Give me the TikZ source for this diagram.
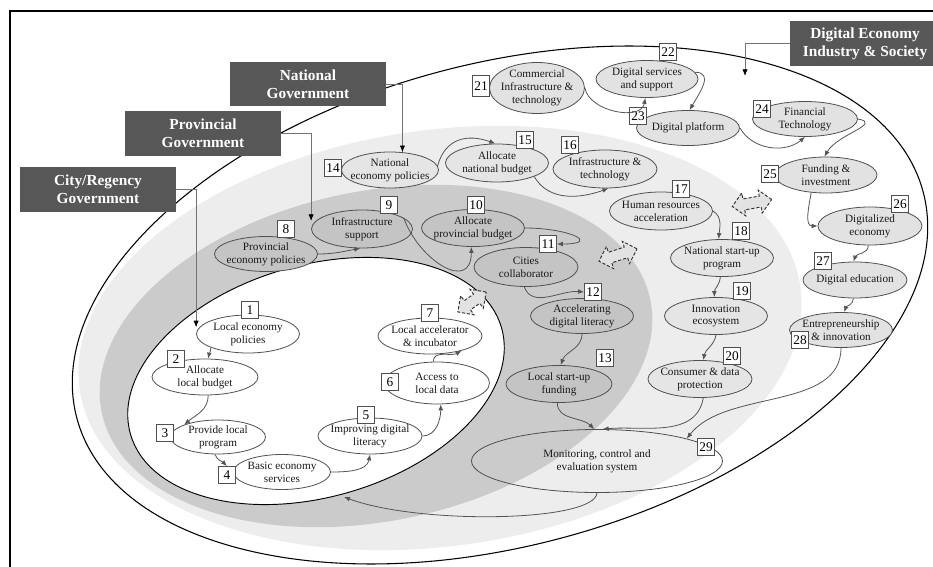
\documentclass[tikz,border=0pt]{standalone}
\usepackage{fontspec}
\setmainfont{Liberation Serif}
\usetikzlibrary{shapes.geometric,shapes.arrows,arrows.meta}
\definecolor{hdrfill}{HTML}{575757}
\definecolor{bandL}{HTML}{EDEDED}
\definecolor{bandD}{HTML}{CBCBCB}
\definecolor{nodeO}{HTML}{E2E2E2}
\definecolor{nodeL}{HTML}{E5E5E5}
\definecolor{nodeD}{HTML}{C4C4C4}
\definecolor{edgecol}{HTML}{505050}
\definecolor{conncol}{HTML}{555555}
\definecolor{dblfill}{HTML}{E2E2E2}
\newcommand\enode[6]{\node[el,fill=#3,minimum width=#4*0.75pt,minimum height=#5*0.75pt] (n#1) at (#2) {};\node[lbl] (t#1) at (n#1.center) {#6};}
\begin{document}
\begin{tikzpicture}[x=0.75pt,y=-0.75pt,
  el/.style={ellipse,draw=edgecol,line width=0.6pt,inner sep=0pt},
  lbl/.style={align=center,font=\fontsize{8.4}{9.7}\selectfont,text=black!90,inner sep=0pt},
  nb/.style={rectangle,draw=edgecol,fill=white,line width=0.6pt,minimum size=12.75pt,inner sep=0pt,font=\fontsize{10}{11}\selectfont},
  conn/.style={draw=conncol,line width=0.6pt,-{Latex[length=4.5pt,width=3.6pt]}},
  hconn/.style={draw=black!55,line width=0.6pt,-{Latex[length=5pt,width=4pt,color=black]}},
  hdr/.style={rectangle,fill=hdrfill,text=white,align=center,font=\bfseries\fontsize{11.5}{13.5}\selectfont,minimum width=117pt,minimum height=33.5pt,inner sep=0pt},
  dbl/.style={double arrow,draw=black!80,dash pattern=on 2.4pt off 1.4pt,line width=0.7pt,fill=dblfill,inner sep=3.8pt,double arrow head extend=4.6pt},
]
\useasboundingbox (0,0) rectangle (933,567);
\fill[white] (0,0) rectangle (933,567);
% frame
\draw[line width=1.4pt] (10,567) -- (10,11) -- (933,11);
% layers
\draw[fill=white,line width=0.8pt,rotate around={15:(500,305)}] (500,305) ellipse [x radius=328.5pt,y radius=180.75pt];
\fill[bandL,rotate around={8:(440,338)}] (440,338) ellipse [x radius=273pt,y radius=156pt];
\fill[bandD,rotate around={11.6:(376,356)}] (376,356) ellipse [x radius=210pt,y radius=123.75pt];
\draw[fill=white,line width=0.7pt,rotate around={16:(316,381)}] (316,381) ellipse [x radius=144.75pt,y radius=87pt];
% dashed double arrows
\node[dbl,rotate=35,minimum height=26pt] (da1) at (472,302) {};
\node[dbl,rotate=18,minimum height=30pt] (da2) at (618,255) {};
\node[dbl,rotate=10,minimum height=30pt] (da3) at (752,203) {};
% city layer
\enode{1}{248,334}{white}{103}{38}{Local economy\\policies}
\enode{2}{205,377}{white}{106}{36}{Allocate\\local budget}
\enode{3}{218,437}{white}{95}{34}{Provide local\\program}
\enode{4}{282,472}{white}{97}{35}{Basic economy\\services}
\enode{5}{370,436}{white}{104}{36}{Improving digital\\literacy}
\enode{6}{437,383}{white}{105}{42}{Access to\\local data}
\enode{7}{430,336}{white}{104}{36}{Local accelerator\\\& incubator}
% provincial layer
\enode{8}{266,254}{nodeD}{103}{35}{Provincial\\economy policies}
\enode{9}{362,229}{nodeD}{101}{38}{Infrastructure\\support}
\enode{10}{473,228}{nodeD}{103}{37}{Allocate\\provincial budget}
\enode{11}{526,267}{nodeD}{104}{39}{Cities\\collaborator}
\enode{12}{582,316}{nodeD}{103}{35}{Accelerating\\digital literacy}
\enode{13}{559,384}{nodeD}{106}{37}{Local start-up\\funding}
% national layer
\enode{14}{390,170}{nodeL}{97}{36}{National\\economy policies}
\enode{15}{497,163}{nodeL}{103}{38}{Allocate\\national budget}
\enode{16}{605,169}{nodeL}{104}{38}{Infrastructure \&\\technology}
\enode{17}{661,211}{nodeL}{103}{38}{Human resources\\acceleration}
\enode{18}{722,258}{nodeL}{103}{37}{National start-up\\program}
\enode{19}{716,316}{nodeL}{103}{37}{Innovation\\ecosystem}
\enode{20}{700,379}{nodeL}{104}{37}{Consumer \& data\\protection}
% digital economy layer
\enode{21}{537,88}{nodeO}{95}{51}{Commercial\\Infrastructure \&\\technology}
\enode{22}{647,79}{nodeO}{102}{37}{Digital services\\and support}
\enode{23}{688,128}{nodeO}{103}{35}{Digital platform}
\enode{24}{805,119}{nodeO}{105}{35}{Financial\\Technology}
\enode{25}{826,175}{nodeO}{102}{36}{Funding \&\\investment}
\enode{26}{870,226}{nodeO}{104}{38}{Digitalized\\economy}
\enode{27}{855,280}{nodeO}{104}{36}{Digital education}
\enode{28}{841,330}{nodeO}{103}{35}{Entrepreneurship\\\& innovation}
\enode{29}{597,461}{none}{251}{63}{Monitoring, control and\\evaluation system}
% number boxes
\node[nb] (b1) at (250,310) {1};
\node[nb] (b2) at (176,359) {2};
\node[nb] (b3) at (165,433) {3};
\node[nb] (b4) at (227,475) {4};
\node[nb] (b5) at (366,415) {5};
\node[nb] (b6) at (390,382) {6};
\node[nb] (b7) at (430,313) {7};
\node[nb] (b8) at (286,229) {8};
\node[nb] (b9) at (389,205) {9};
\node[nb] (b10) at (476,205) {10};
\node[nb] (b11) at (548,244) {11};
\node[nb] (b12) at (593,292) {12};
\node[nb] (b13) at (605,358) {13};
\node[nb] (b14) at (333,168) {14};
\node[nb] (b15) at (525,140) {15};
\node[nb] (b16) at (570,145) {16};
\node[nb] (b17) at (681,189) {17};
\node[nb] (b18) at (741,231) {18};
\node[nb] (b19) at (742,291) {19};
\node[nb] (b20) at (732,356) {20};
\node[nb,minimum height=16pt] (b21) at (481,86) {21};
\node[nb] (b22) at (668,52) {22};
\node[nb] (b23) at (638,116) {23};
\node[nb] (b24) at (762,109) {24};
\node[nb] (b25) at (770,174) {25};
\node[nb] (b26) at (900,204) {26};
\node[nb] (b27) at (823,261) {27};
\node[nb] (b28) at (800,340) {28};
\node[nb] (b29) at (706,447) {29};
% city connectors
\draw[conn] (n1.200) to[out=-90,in=80] (n2.80);
\draw[conn] (n2.-80) to[out=-90,in=40] (n3.160);
\draw[conn] (n3.-100) to[out=-70,in=135] (b4.north);
\draw[conn] (n4.east) to[out=0,in=-100] (n5.-90);
\draw[conn] (n5.east) to[out=0,in=-90] (n6.-80);
\draw[conn] (n6.100) to[out=90,in=-150] (n7.-25);
% provincial connectors
\draw[conn] (n8.east) to[out=0,in=-170] (n9.-95);
\draw[conn] (n9.15) to[out=-70,in=-90,looseness=1.6] (n10.-95);
\draw[conn] (n10.east) to[out=0,in=0,looseness=3.2] (b11.east);
\draw[conn] (n11.-95) to[out=-70,in=175] (b12.west);
\draw[conn] (n12.-90) to[out=-90,in=70] (n13.85);
% national connectors
\draw[conn] (n14.5) to[out=75,in=160,looseness=1.2] (n15.95);
\draw[conn] (n15.-20) to[out=-60,in=-160] (n16.-80);
\draw[conn] (n17.east) to[out=-30,in=85] (n18.100);
\draw[conn] (n18.-95) to[out=-95,in=90] (n19.95);
\draw[conn] (n19.-90) to[out=-100,in=80] (n20.80);
% digital economy connectors
\draw[conn] (n21.east) to[out=-80,in=-100] (n22.-95);
\draw[conn] (n22.8) to[out=0,in=60,looseness=1.3] (n23.85);
\draw[conn] (n23.east) to[out=-60,in=-140] (n24.-90);
\draw[conn] (n24.east) to[out=-10,in=60,looseness=1.3] (n25.95);
\draw[conn] (n25.-130) to[out=-100,in=180] (n26.west);
\draw[conn] (n26.-95) to[out=-90,in=70] (n27.95);
\draw[conn] (n27.-95) to[out=-90,in=70] (n28.80);
% into monitoring
\draw[conn] (n13.-95) to[out=-90,in=135] (n29.95);
\draw[conn] (n20.-80) to[out=-100,in=5] (n29.80);
\draw[conn] (n28.-90) to[out=-90,in=52,looseness=0.9] (n29.14);
\coordinate (cityin) at (344,497);
\draw[conn] (n29.south) .. controls (595,522) and (420,525) .. (cityin);
% headers
\node[hdr] (nat) at (308,84) {National\\Government};
\node[hdr] (prov) at (203,133.5) {Provincial\\Government};
\node[hdr] (city) at (98,189.5) {City/Regency\\Government};
\node[hdr,minimum width=112.5pt] (dig) at (865,43.5) {Digital Economy\\Industry \& Society};
\draw[hconn] (nat.east) -| (n14.55);
\draw[hconn,shorten >=6pt] (prov.east) -| (n9.west);
\draw[hconn,shorten >=5pt] (city.east) -| (n1.west);
\coordinate (digtip) at (745,76);
\draw[hconn] (dig.west) -| (digtip);
\end{tikzpicture}
\end{document}
